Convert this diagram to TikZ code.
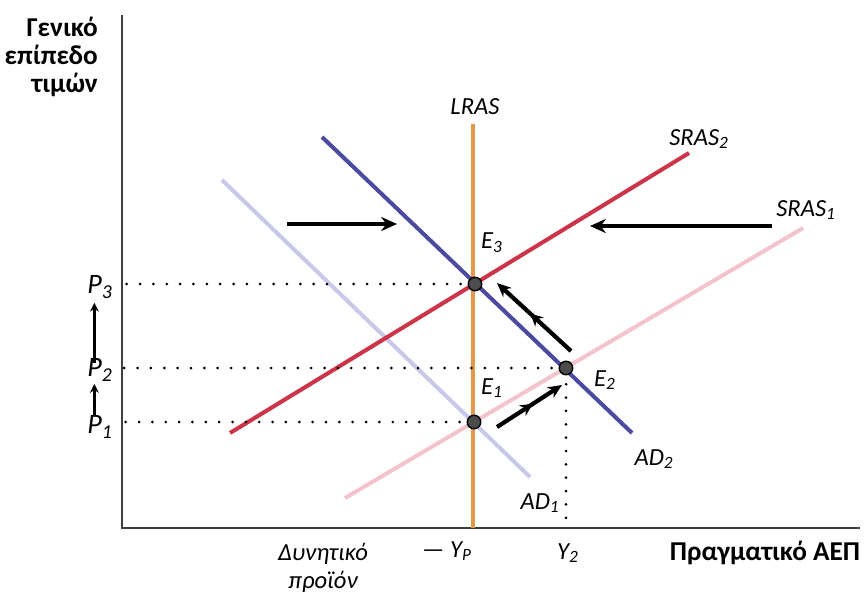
\documentclass[tikz,border=0pt]{standalone}
\usepackage{fontspec}
\setmainfont{Carlito}
\usepackage{xcolor}
\usetikzlibrary{arrows.meta,calc,positioning,decorations.markings}
\definecolor{lrascol}{RGB}{228,152,76}
\definecolor{adtwocol}{RGB}{76,74,160}
\definecolor{adonecol}{RGB}{200,200,232}
\definecolor{srastwocol}{RGB}{204,52,72}
\definecolor{srasonecol}{RGB}{244,196,206}

\begin{document}
\begin{tikzpicture}[x=0.02cm,y=-0.02cm,font=\fontsize{14}{16}\selectfont,
  axis/.style={line width=1.2pt,black!75},
  curve/.style={line width=2.3pt},
  guide/.style={line width=1.7pt,line cap=round,dash pattern=on 0pt off 7.6pt},
  eq/.style={circle,fill=black!70,draw=black,line width=0.8pt,minimum size=0.27cm,inner sep=0pt},
  shiftarrow/.style={-{Stealth[length=9pt,width=8pt]},line width=2.6pt},
  movearrow/.style={-{Stealth[length=8pt,width=7pt]},line width=2.4pt,
    postaction={decorate},decoration={markings,mark=at position 0.55 with {\arrow{Stealth[length=7pt,width=7pt]}}}},
  lab/.style={font=\fontsize{14}{16}\selectfont\itshape},
  bold/.style={font=\fontsize{15.5}{16}\selectfont\bfseries}]
\useasboundingbox (0,0) rectangle (864,602);

% axes
\coordinate (O) at (122,528);
\draw[axis] (122,15) -- (O) -- (860,528);
\node[bold,align=right,anchor=east] (ylab) at (104,57) {Γενικό\\επίπεδο\\τιμών};
\node[bold] (xlab) at (765,553) {Πραγματικό ΑΕΠ};

% curves
\draw[curve,adonecol] (222,180) -- (530,477);
\draw[curve,srasonecol] (345,498) -- (803,228);
\draw[curve,lrascol] (473,124) -- (473,528);
\draw[curve,srastwocol] (230,433) -- (689,153);
\draw[curve,adtwocol] (322,137) -- (632,433);

% equilibria
\node[eq] (E1) at (474,422) {};
\node[eq] (E2) at (566,368) {};
\node[eq] (E3) at (475,284) {};

% price levels
\node[lab,font=\fontsize{16}{18}\selectfont\itshape] (P3) at (100,287) {P\textsubscript{3}};
\node[lab,font=\fontsize{16}{18}\selectfont\itshape] (P2) at (100,370) {P\textsubscript{2}};
\node[lab,font=\fontsize{16}{18}\selectfont\itshape] (P1) at (100,427) {P\textsubscript{1}};
\draw[guide] ([xshift=-4pt]E3.west) -- (E3 -| O);
\draw[guide] ([xshift=-4pt]E2.west) -- (E2 -| O);
\draw[guide] ([xshift=-4pt]E1.west) -- (E1 -| O);
\draw[guide] ([yshift=-5pt]E2.south) -- (E2 |- O);
\draw[-{Stealth[length=5pt,width=5pt]},line width=1.3pt] ([xshift=-3.2pt,yshift=-3pt]P1.north) -- ([xshift=-3.2pt,yshift=2pt]P2.south);
\draw[-{Stealth[length=5pt,width=5pt]},line width=1.3pt] ([xshift=-3.2pt,yshift=-6pt]P2.north) -- ([xshift=-3.2pt,yshift=1pt]P3.south);

% shifts
\coordinate (adfrom) at (287,224);
\coordinate (adto) at (397,224);
\coordinate (srasfrom) at (772,226);
\coordinate (srasto) at (590,226);
\draw[shiftarrow] (adfrom) -- (adto);
\draw[shiftarrow] (srasfrom) -- (srasto);
\draw[movearrow] ($(E1)+(23,5)$) -- ($(E2)+(-4,17)$);
\draw[movearrow] ($(E2)+(5,-17)$) -- ($(E3)+(22,-1)$);

% labels
\node[lab] (lras) at (475,107) {LRAS};
\node[lab] (sras2) at (699,139) {SRAS\textsubscript{2}};
\node[lab] (sras1) at (806,210) {SRAS\textsubscript{1}};
\node[lab] (ad2) at (654,459) {AD\textsubscript{2}};
\node[lab] (ad1) at (540,503) {AD\textsubscript{1}};
\node[lab] (e3lab) at (492,243) {E\textsubscript{3}};
\node[lab] (e2lab) at (605,380) {E\textsubscript{2}};
\node[lab] (e1lab) at (492,388) {E\textsubscript{1}};
\node[lab] (y2) at (568,553) {Y\textsubscript{2}};
\node[lab] (yp) at (447,551) {\upshape— \itshape Y\textsubscript{P}};
\node[lab,align=center] (potential) at (323,568) {Δυνητικό\\προϊόν};
\end{tikzpicture}
\end{document}
